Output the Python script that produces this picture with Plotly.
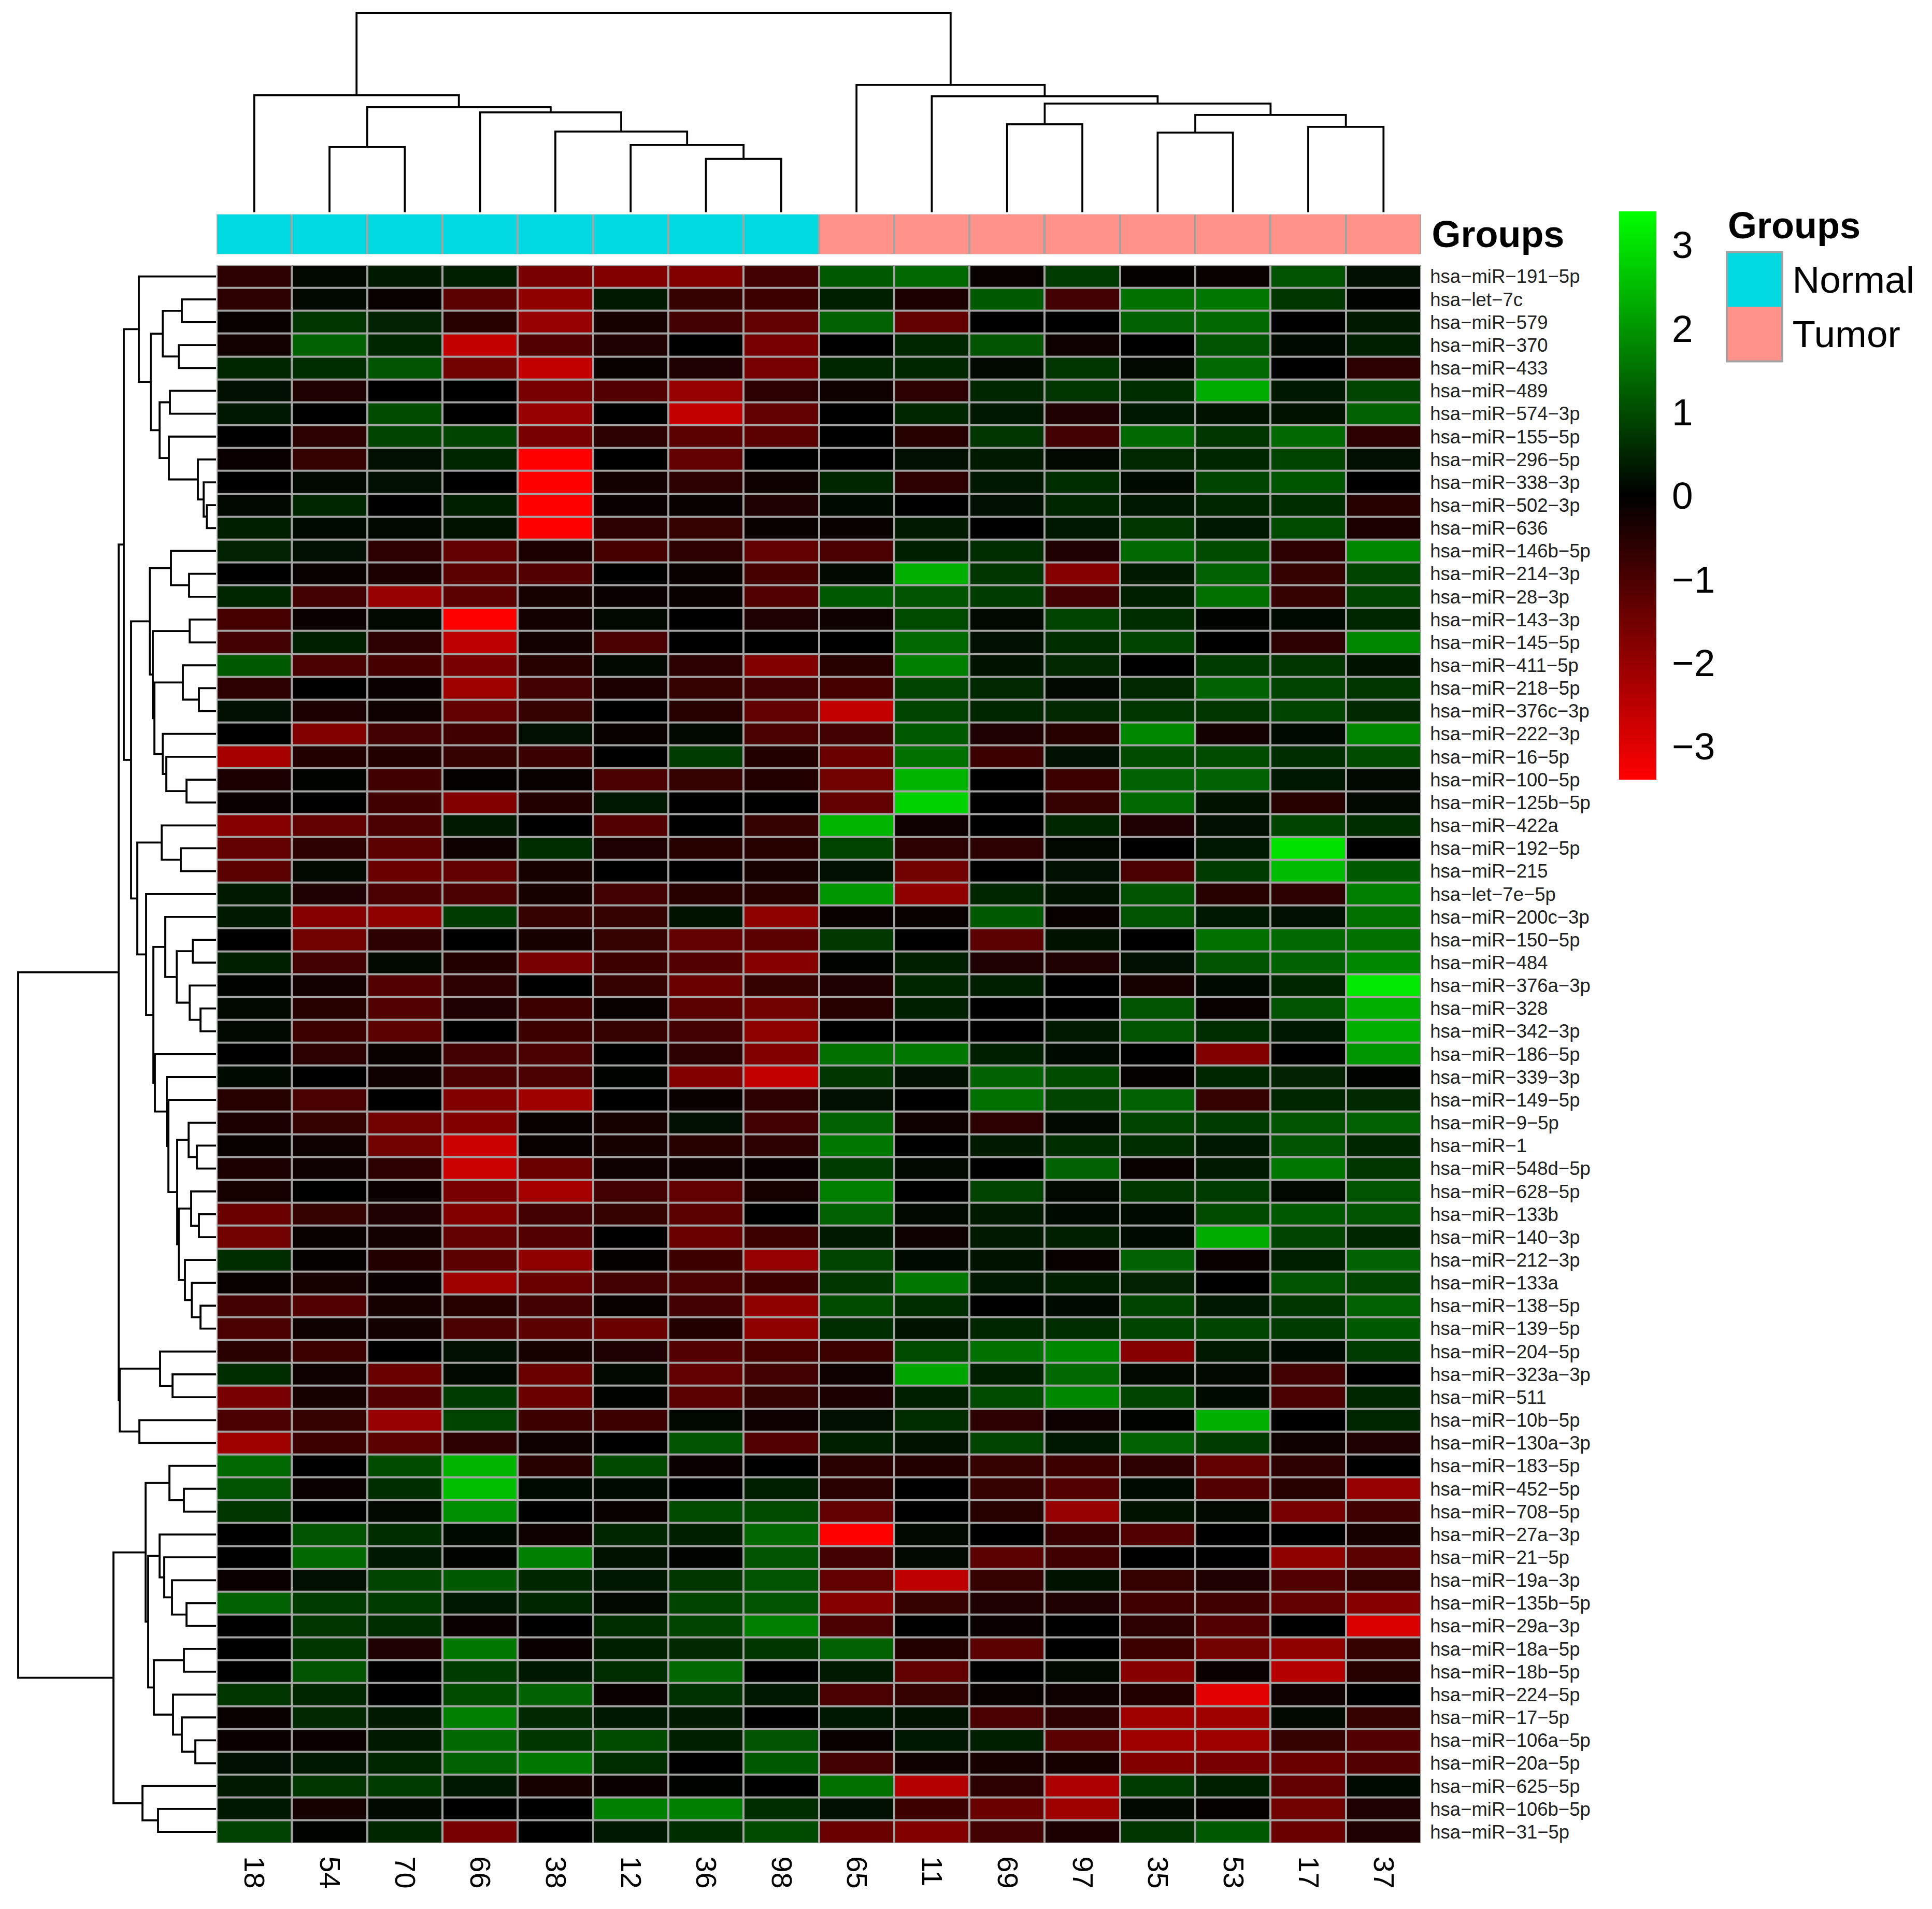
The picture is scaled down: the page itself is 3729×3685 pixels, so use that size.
import plotly.graph_objects as go

samples = ["18", "54", "70", "66", "38", "12", "36", "98", "65", "11", "69", "97", "35", "53", "17", "37"]
groups = ["Normal"] * 8 + ["Tumor"] * 8
group_names = ["Normal", "Tumor"]
group_colors = ["#00DAE0", "#FF9289"]

mirnas = ["hsa-miR-191-5p", "hsa-let-7c", "hsa-miR-579", "hsa-miR-370", "hsa-miR-433", "hsa-miR-489",
          "hsa-miR-574-3p", "hsa-miR-155-5p", "hsa-miR-296-5p", "hsa-miR-338-3p", "hsa-miR-502-3p", "hsa-miR-636",
          "hsa-miR-146b-5p", "hsa-miR-214-3p", "hsa-miR-28-3p", "hsa-miR-143-3p", "hsa-miR-145-5p", "hsa-miR-411-5p",
          "hsa-miR-218-5p", "hsa-miR-376c-3p", "hsa-miR-222-3p", "hsa-miR-16-5p", "hsa-miR-100-5p", "hsa-miR-125b-5p",
          "hsa-miR-422a", "hsa-miR-192-5p", "hsa-miR-215", "hsa-let-7e-5p", "hsa-miR-200c-3p", "hsa-miR-150-5p",
          "hsa-miR-484", "hsa-miR-376a-3p", "hsa-miR-328", "hsa-miR-342-3p", "hsa-miR-186-5p", "hsa-miR-339-3p",
          "hsa-miR-149-5p", "hsa-miR-9-5p", "hsa-miR-1", "hsa-miR-548d-5p", "hsa-miR-628-5p", "hsa-miR-133b",
          "hsa-miR-140-3p", "hsa-miR-212-3p", "hsa-miR-133a", "hsa-miR-138-5p", "hsa-miR-139-5p", "hsa-miR-204-5p",
          "hsa-miR-323a-3p", "hsa-miR-511", "hsa-miR-10b-5p", "hsa-miR-130a-3p", "hsa-miR-183-5p", "hsa-miR-452-5p",
          "hsa-miR-708-5p", "hsa-miR-27a-3p", "hsa-miR-21-5p", "hsa-miR-19a-3p", "hsa-miR-135b-5p", "hsa-miR-29a-3p",
          "hsa-miR-18a-5p", "hsa-miR-18b-5p", "hsa-miR-224-5p", "hsa-miR-17-5p", "hsa-miR-106a-5p", "hsa-miR-20a-5p",
          "hsa-miR-625-5p", "hsa-miR-106b-5p", "hsa-miR-31-5p"]

# expression, rows top to bottom, columns in sample order
expr = [
    [-0.6, 0.1, 0.35, 0.4, -1.6, -1.7, -1.7, -0.9, 1.2, 1.4, -0.1, 0.8, -0.05, -0.1, 1.1, 0.2],
    [-0.6, 0.1, -0.1, -1.2, -1.9, 0.35, -0.7, -0.8, 0.4, -0.35, 1.2, -0.9, 1.5, 1.6, 0.7, 0.05],
    [-0.1, 0.7, 0.45, -0.5, -2.0, -0.3, -0.9, -1.3, 1.3, -1.3, 0, 0, 1.3, 1.4, 0, 0.35],
    [-0.25, 1.3, 0.5, -2.6, -1.1, -0.4, 0, -1.6, 0, 0.5, 1.1, -0.2, 0, 1.1, 0.15, 0.4],
    [0.5, 0.6, 1.1, -1.5, -2.6, -0.1, -0.4, -1.6, 0.5, 0.5, 0.1, 0.7, 0.1, 1.4, 0, -0.6],
    [0.2, -0.4, 0, 0, -1.6, -1.1, -2.0, -0.6, -0.2, -0.6, 0.5, 0.7, 0.6, 2.3, 0.3, 0.9],
    [0.3, 0, 1.0, 0, -2.0, 0, -2.6, -1.3, 0, 0.5, 0.3, -0.4, 0.3, 0.25, 0.25, 1.3],
    [0, -0.6, 0.9, 0.9, -1.6, -0.6, -1.2, -1.2, 0, -0.5, 0.7, -0.9, 1.4, 0.7, 1.4, -0.6],
    [-0.15, -0.7, 0.2, 0.5, -3.4, 0, -1.3, 0, 0, 0.2, 0.35, 0.1, 0.55, 0.5, 0.9, 0.2],
    [0, 0.1, 0.2, 0, -3.4, -0.25, -0.6, -0.2, 0.5, -0.6, 0.3, 0.6, 0.15, 0.9, 1.15, 0],
    [0.1, 0.5, 0, 0.4, -3.4, -0.15, -0.1, -0.4, 0.15, 0, 0.2, 0.5, 0.3, 0.5, 0.6, -0.5],
    [0.4, 0.15, 0.1, 0.25, -3.4, -0.6, -0.7, -0.1, -0.1, 0.35, 0, 0.3, 0.7, 0.3, 1.0, -0.35],
    [0.45, 0.2, -0.6, -1.3, -0.35, -0.95, -0.6, -1.3, -1.0, 0.4, 0.6, -0.4, 1.4, 1.0, -0.6, 1.8],
    [0, -0.1, -0.35, -1.2, -1.1, 0, -0.1, -0.95, 0.1, 2.35, 0.7, -1.8, 0.35, 1.3, -0.7, 0.9],
    [0.5, -0.9, -2.0, -1.2, -0.3, -0.15, -0.1, -1.1, 1.2, 1.1, 0.8, -0.9, 0.4, 1.5, -0.7, 0.9],
    [-0.95, -0.15, 0.1, -3.4, -0.25, 0.1, 0, -0.4, -0.2, 1.0, 0.1, 0.9, 0.6, 0.05, 0.15, 0.5],
    [-0.9, 0.4, -0.6, -2.5, -0.25, -1.0, 0, 0, 0, 1.4, 0.2, 0.6, 0.9, 0, -0.6, 1.8],
    [1.2, -1.0, -0.95, -1.6, -0.5, 0.1, -0.6, -1.7, -0.5, 1.7, 0.25, 0.55, 0, 0.8, 0.7, 0.25],
    [-0.6, 0, -0.15, -2.1, -0.9, -0.35, -0.7, -0.9, -0.95, 0.9, 0.55, 0.1, 0.55, 1.3, 0.9, 0.7],
    [0.2, -0.35, -0.2, -1.3, -0.7, 0, -0.5, -1.3, -2.6, 0.9, 0.5, 0.55, 0.7, 0.7, 0.9, 0.55],
    [0, -1.7, -0.9, -0.85, 0.2, -0.1, 0.1, -1.0, -0.9, 1.2, -0.4, -0.5, 1.8, -0.25, 0.15, 1.8],
    [-2.2, -0.45, -0.45, -0.7, -0.75, 0, 0.8, -0.45, -1.4, 1.5, -0.8, 0.2, 1.0, 1.0, 0.6, 1.0],
    [-0.35, 0.05, -0.85, -0.05, -0.1, -1.0, -0.7, -0.45, -1.5, 2.4, 0, -0.8, 1.3, 1.3, 0.3, 0.1],
    [-0.15, 0, -0.85, -1.7, -0.45, 0.3, 0, 0, -1.3, 2.8, 0, -0.7, 1.4, 0.25, -0.5, 0.1],
    [-1.8, -1.3, -1.0, 0.35, 0, -1.1, 0, -0.7, 2.4, -0.2, 0, 0.5, -0.4, 0.2, 0.9, 0.6],
    [-1.3, -0.6, -1.2, -0.2, 0.6, -0.4, -0.5, -0.5, 0.9, -0.6, -0.6, 0.1, 0, 0.3, 3.0, 0],
    [-1.2, 0.1, -1.4, -1.3, -0.3, 0, 0, -0.3, 0.2, -1.5, 0, 0.2, -1.0, 0.8, 2.5, 1.2],
    [0.35, -0.4, -1.0, -1.0, -0.3, -0.9, -0.5, -0.5, 2.0, -1.9, 0.5, 0.25, 1.1, -0.5, -0.6, 1.7],
    [0.35, -1.8, -1.9, 0.8, -0.7, -0.7, 0.25, -1.9, -0.1, -0.1, 1.2, -0.1, 1.1, 0.3, 0.2, 1.5],
    [0, -1.5, -0.6, 0, -0.3, -0.7, -1.3, -1.2, 0.75, 0, -1.2, 0.25, 0, 1.5, 1.4, 1.5],
    [0.4, -0.9, 0.1, -0.45, -1.6, -0.8, -1.1, -1.8, 0.05, 0.4, -0.4, -0.4, 0.2, 1.1, 1.3, 1.8],
    [0.05, -0.25, -1.1, -0.6, 0, -0.7, -1.4, -0.7, -0.4, 0.5, 0.4, 0, -0.3, 0.15, 0.5, 3.1],
    [0.1, -0.5, -1.1, -0.4, -0.8, -0.1, -1.2, -1.5, -0.5, 0.4, 0, 0, 1.1, -0.1, 1.1, 2.35],
    [0.1, -0.8, -1.2, 0, -0.8, -0.7, -0.9, -1.9, 0, 0, 0, 0.35, 1.1, 0.6, 0.3, 2.35],
    [0, -0.6, -0.1, -0.9, -1.0, 0, -0.6, -1.7, 1.5, 1.6, 0.4, 0.15, 0, -1.7, 0, 2.0],
    [0.15, 0, -0.2, -1.0, -1.0, 0.05, -1.7, -2.6, 0.7, 0.2, 1.3, 1.0, -0.05, 0.5, 0.45, 0.05],
    [-0.5, -1.0, 0, -1.7, -2.1, 0, -0.1, -0.6, 0.2, 0, 1.5, 0.9, 1.3, -0.7, 0.5, 0.55],
    [-0.35, -0.7, -1.5, -1.7, -0.1, -0.3, 0.2, -0.9, 1.3, -0.2, -0.6, 0.1, 0.9, 0.8, 1.1, 1.3],
    [-0.1, -0.2, -1.5, -2.7, -0.1, -0.3, -0.5, -0.6, 1.6, 0, 0.35, 0.6, 0.6, 0.3, 1.1, 0.5],
    [-0.35, -0.2, -0.6, -2.7, -1.4, -0.2, -0.2, -0.15, 0.8, 0.1, 0, 1.3, -0.1, 0.35, 1.6, 0.7],
    [-0.3, 0, -0.15, -1.6, -2.2, -0.9, -1.3, -0.3, 1.7, 0, 0.9, 0.1, 0.7, 0.8, 0.1, 1.1],
    [-1.4, -0.7, -0.4, -1.7, -0.9, -0.7, -1.2, 0, 1.3, 0.1, 0.35, 0.15, 0.15, 1.0, 1.2, 1.1],
    [-1.5, -0.1, -0.25, -1.3, -1.1, 0, -1.4, -0.8, 0.35, -0.2, 0.35, 0.4, 0.15, 2.3, 0.9, 0.5],
    [0.6, -0.05, -0.45, -1.2, -1.9, -0.05, -0.8, -2.0, 0.9, 0.15, 0.25, -0.1, 1.3, -0.1, 0.4, 1.3],
    [-0.1, -0.3, -0.15, -2.1, -1.4, -0.9, -1.0, -0.8, 0.7, 1.6, 0.3, 0.4, 0.45, 0, 1.1, 0.9],
    [-0.9, -1.1, -0.3, -0.5, -0.9, -0.1, -0.9, -1.9, 1.0, 0.6, 0, 0.15, 0.9, 0.3, 0.7, 1.3],
    [-1.0, -0.2, -0.25, -1.0, -1.2, -1.4, -0.45, -1.9, 0.6, 0.25, 0.5, 0.6, 0.9, 0.9, 0.8, 1.2],
    [-0.55, -0.8, 0, 0.2, -0.3, -0.4, -1.1, -0.95, -0.8, 1.0, 1.5, 1.8, -1.8, 0.35, 0.15, 0.8],
    [0.6, -0.2, -1.4, 0.1, -1.4, 0.1, -1.3, -0.9, -0.2, 2.2, 0.4, 1.4, 0.1, 0.1, -0.9, 0],
    [-1.6, -0.3, -1.1, 0.8, -1.4, 0.05, -1.2, -0.7, -0.35, 0.4, 1.0, 1.8, 0.9, 0.15, -1.0, 0.5],
    [-1.0, -0.7, -2.0, 0.9, -0.8, -0.8, 0.1, -0.2, 0.2, 0.6, -0.6, -0.2, 0.05, 2.35, 0, 0.5],
    [-2.1, -0.8, -1.2, -0.6, -0.2, 0, 1.1, -1.1, 0.4, 0.25, 0.9, 0.3, 1.3, 0.8, -0.2, -0.4],
    [1.4, 0, 1.0, 2.4, -0.5, 0.95, -0.15, 0, -0.55, -0.45, -0.7, -0.8, -0.6, -1.3, -0.6, 0],
    [1.1, -0.15, 0.6, 2.55, 0.15, 0.15, 0, 0.4, -0.55, 0, -0.7, -1.1, 0.15, -1.1, -0.5, -2.0],
    [0.7, 0, 0.1, 1.9, 0, -0.1, 1.0, 1.0, -1.3, 0, -0.5, -2.0, 0.25, 0.1, -1.6, -0.85],
    [0, 1.1, 0.6, 0.15, -0.2, 0.5, 0.4, 1.4, -3.4, 0.1, 0, -0.75, -1.1, 0, 0, -0.3],
    [0, 1.4, 0.3, 0.05, 1.7, 0.25, 0.05, 1.1, -0.9, 0.1, -1.2, -0.85, 0, 0, -1.9, -1.2],
    [-0.15, 0.2, 0.9, 1.2, 0.5, 0.3, 0.7, 1.1, -1.3, -2.5, -0.7, 0.25, -0.7, -0.4, -1.1, -0.7],
    [1.3, 0.8, 0.8, 0.3, 0.5, 0.1, 0.9, 1.1, -1.8, -0.7, -0.4, -0.4, -0.85, -0.85, -1.3, -1.8],
    [0, 0.7, 0.6, -0.15, 0, 0.6, 0.9, 1.7, -1.0, 0, -0.15, 0, -0.6, -1.1, 0, -2.9],
    [0, 0.7, -0.4, 1.6, -0.15, 0.4, 0.55, 0.7, 1.3, -0.45, -1.2, 0, -0.8, -1.5, -1.9, -0.7],
    [0, 1.1, 0, 0.8, 0.3, 0.6, 1.4, 0, 0.35, -1.3, 0, 0.1, -1.8, -0.15, -2.4, -0.5],
    [0.7, 0.5, 0, 1.0, 1.3, -0.15, 0.65, 0.3, -1.0, -0.7, -0.1, -0.2, -0.45, -3.0, -0.2, 0],
    [-0.1, 0.55, 0.35, 1.7, 0.55, 0.3, 0.35, 0, 0.3, 0.25, -1.0, -0.6, -2.1, -2.1, 0.1, -0.7],
    [-0.15, -0.15, 0.35, 1.4, 0.7, 1.0, 0.4, 1.1, -0.1, 0.3, 0.4, -1.2, -2.1, -2.1, -0.7, -1.1],
    [0.2, 0.3, 0.5, 1.3, 1.6, 0.6, 0, 1.2, -0.9, -0.2, -0.3, -0.3, -1.7, -1.6, -1.4, -1.1],
    [0.35, 0.7, 0.8, 0.3, -0.3, -0.15, 0.05, 0, 1.5, -2.4, -0.6, -2.3, 0.8, 0.4, -1.3, 0.15],
    [0.3, -0.3, 0.1, 0, 0, 1.7, 1.7, 0.6, 0.2, -0.8, -1.4, -2.1, 0.1, -0.05, -1.5, -0.4],
    [0.85, 0.05, 0.5, -1.6, 0, 0.3, 0.6, 1.0, -1.4, -1.7, -0.9, -0.35, 0.7, 1.2, -1.4, -0.4],
]

# dendrograms, hclust style: negative = leaf number, positive = earlier merge number
col_merge = [(-7, -8), (-6, 1), (-5, 2), (-4, 3), (-2, -3), (5, 4), (-1, 6), (-11, -12), (-13, -14), (-15, -16),
             (9, 10), (8, 11), (-10, 12), (-9, 13), (7, 14)]
col_height = [10.3, 13.0, 15.6, 19.3, 12.6, 20.3, 22.6, 17.0, 15.4, 16.5, 18.8, 21.0, 22.4, 24.6, 38.5]

row_merge = [(-2, -3), (-4, -5), (1, 2), (-6, -7), (-11, -12), (-10, 5), (-9, 6), (-8, 7), (4, 8), (3, 9), (-1, 10),
             (-14, -15), (-13, 12), (-16, -17), (-19, -20), (-18, 15), (-23, -24), (-22, 17), (-21, 18), (16, 19),
             (14, 20), (13, 21), (-26, -27), (-25, 23), (-30, -31), (-33, -34), (-32, 26), (25, 27), (-29, 28),
             (-39, -40), (-38, 30), (-42, -43), (-41, 32), (-46, -47), (-45, 34), (-44, 35), (33, 36), (31, 37),
             (-37, 38), (-36, 39), (-35, 40), (29, 41), (-28, 42), (24, 43), (22, 44), (11, 45), (-49, -50),
             (-48, 47), (-51, -52), (48, 49), (46, 50), (-54, -55), (-53, 52), (-59, -60), (-58, 54), (-57, 55),
             (-56, 56), (-61, -62), (-65, -66), (-64, 59), (-63, 60), (58, 61), (57, 62), (53, 63), (-68, -69),
             (-67, 65), (64, 66), (51, 67)]
row_height = [6.6, 7.2, 10.3, 8.9, 1.8, 2.4, 3.5, 9.1, 10.9, 12.6, 14.9,
              5.2, 8.7, 5.1, 3.3, 6.4, 5.7, 9.6, 10.3, 11.9,
              12.2, 12.8, 6.8, 10.5, 4.5, 3.0, 5.1, 7.6, 9.8,
              3.7, 5.3, 3.3, 4.8, 3.0, 4.7, 6.0, 7.2, 7.5,
              9.2, 9.5, 11.8, 12.1, 13.5, 15.2, 16.4, 17.8, 8.4,
              10.8, 14.8, 18.6, 18.8, 6.2, 9.0, 5.7, 8.5, 10.0,
              10.9, 6.2, 4.0, 6.6, 8.3, 12.0, 13.1, 13.6, 11.2,
              14.2, 19.8, 38.2]


def dendro_lines(merge, heights):
    pos, a_vals, b_vals = {}, [], []
    for k, (l, r) in enumerate(merge):
        pl = -l - 1 if l < 0 else pos[l]
        pr = -r - 1 if r < 0 else pos[r]
        hl = 0 if l < 0 else heights[l - 1]
        hr = 0 if r < 0 else heights[r - 1]
        a_vals += [pl, pl, pr, pr, None]
        b_vals += [hl, heights[k], heights[k], hr, None]
        pos[k + 1] = (pl + pr) / 2
    return a_vals, b_vals


# the page body has an 8px margin, positions below are pixels of the full picture
OFF = 8
W = 3729 - 2 * OFF
H = 3685 - 2 * OFF


def dx(a, b):
    return [(a - OFF) / W, (b - OFF) / W]


def dy(top, bottom):
    return [1 - (bottom - OFF) / H, 1 - (top - OFF) / H]


HEAT_L, HEAT_R, HEAT_T, HEAT_B = 418, 2743, 511, 3560
FONT = "Liberation Sans"
GREY = "#A3A3A3"
CLEAR = "rgba(0,0,0,0)"
rc = [[0, "#FF0000"], [0.5, "#000000"], [1, "#00FF00"]]
gc = [[0, group_colors[0]], [0.5, group_colors[0]], [0.5, group_colors[1]], [1, group_colors[1]]]
row_labels = [m.replace("-", "\u2212") for m in mirnas]

fig = go.Figure()
fig.add_trace(go.Heatmap(z=expr, x=samples, y=row_labels, zmin=-3.4, zmax=3.4, colorscale=rc, xgap=4, ygap=4,
                         xaxis="x", yaxis="y",
                         colorbar=dict(x=(3125 - OFF) / W, xanchor="left", y=1 - ((408 + 1505) / 2 - OFF) / H,
                                       yanchor="middle", lenmode="pixels", len=1097, thickness=72,
                                       thicknessmode="pixels", outlinewidth=0, tickvals=[-3, -2, -1, 0, 1, 2, 3],
                                       ticks="outside", ticklen=16, tickcolor=CLEAR, xpad=0, ypad=0,
                                       tickfont=dict(family=FONT, size=73, color="black"))))
fig.add_trace(go.Heatmap(z=[[group_names.index(g) for g in groups]], x=samples, y=["<b>Groups</b>"], zmin=0, zmax=1,
                         colorscale=gc, showscale=False, xgap=4, ygap=0, xaxis="x2", yaxis="y2"))
fig.add_trace(go.Heatmap(z=[[0], [1]], x=["Groups"], y=group_names, zmin=0, zmax=1, colorscale=gc, showscale=False,
                         ygap=0, xaxis="x5", yaxis="y5"))

cx, cy = dendro_lines(col_merge, col_height)
fig.add_trace(go.Scatter(x=cx, y=cy, mode="lines", line=dict(color="black", width=3.8), xaxis="x3", yaxis="y3",
                         showlegend=False))
ry, rx = dendro_lines(row_merge, row_height)
fig.add_trace(go.Scatter(x=rx, y=ry, mode="lines", line=dict(color="black", width=3.8), xaxis="x4", yaxis="y4",
                         showlegend=False))

hidden = dict(visible=False, fixedrange=True)
fig.update_layout(
    width=W, height=H, margin=dict(l=0, r=0, t=0, b=0), paper_bgcolor="white", plot_bgcolor="white",
    showlegend=False, font=dict(family=FONT, color="black"),
    xaxis=dict(domain=dx(HEAT_L, HEAT_R), type="category", side="bottom", tickmode="array", tickvals=samples,
               ticktext=samples, tickangle=90, ticks="outside", ticklen=13, tickcolor=CLEAR, showline=False,
               showgrid=False, zeroline=False, tickfont=dict(size=56)),
    yaxis=dict(domain=dy(HEAT_T, HEAT_B), type="category", side="right", autorange="reversed", tickmode="array",
               tickvals=row_labels, ticktext=row_labels, ticks="outside", ticklen=9, tickcolor=CLEAR, showline=False,
               showgrid=False, zeroline=False, tickfont=dict(size=36.5, color="#222222")),
    xaxis2=dict(domain=dx(HEAT_L, HEAT_R), type="category", anchor="y2", **hidden),
    yaxis2=dict(domain=dy(413, 490), type="category", anchor="x2", side="right", showgrid=False, zeroline=False,
                showline=False, ticks="outside", ticklen=5, tickcolor=CLEAR, tickfont=dict(size=72)),
    xaxis3=dict(domain=dx(HEAT_L, HEAT_R), range=[-0.5, 15.5], anchor="y3", **hidden),
    yaxis3=dict(domain=dy(0 + OFF, 409), range=[0, 40.1], anchor="x3", **hidden),
    xaxis4=dict(domain=dx(OFF, 417), range=[40.9, 0], anchor="y4", **hidden),
    yaxis4=dict(domain=dy(HEAT_T, HEAT_B), range=[68.5, -0.5], anchor="x4", **hidden),
    xaxis5=dict(domain=dx(3333, 3440), type="category", anchor="y5", **hidden),
    yaxis5=dict(domain=dy(486, 697), type="category", anchor="x5", side="right", autorange="reversed",
                showgrid=False, zeroline=False, showline=False, ticks="outside", ticklen=4, tickcolor=CLEAR,
                tickfont=dict(size=73)),
    shapes=[
        dict(type="rect", xref="paper", yref="paper", layer="below", x0=dx(HEAT_L, HEAT_R)[0], x1=dx(HEAT_L, HEAT_R)[1],
             y0=dy(HEAT_T, HEAT_B)[0], y1=dy(HEAT_T, HEAT_B)[1], fillcolor=GREY, line_width=0),
        dict(type="rect", xref="paper", yref="paper", layer="below", x0=dx(HEAT_L, HEAT_R)[0], x1=dx(HEAT_L, HEAT_R)[1],
             y0=dy(413, 490)[0], y1=dy(413, 490)[1], fillcolor=GREY, line_width=0),
        dict(type="rect", xref="paper", yref="paper", layer="above", x0=dx(3333, 3440)[0], x1=dx(3333, 3440)[1],
             y0=dy(486, 697)[0], y1=dy(486, 697)[1], fillcolor=CLEAR, line=dict(color=GREY, width=4)),
    ],
    annotations=[dict(text="<b>Groups</b>", xref="paper", yref="paper", x=(3333 - OFF) / W, y=1 - (434 - OFF) / H,
                      xanchor="left", yanchor="middle", showarrow=False, font=dict(size=72))],
)

fig.write_html("out.html")
